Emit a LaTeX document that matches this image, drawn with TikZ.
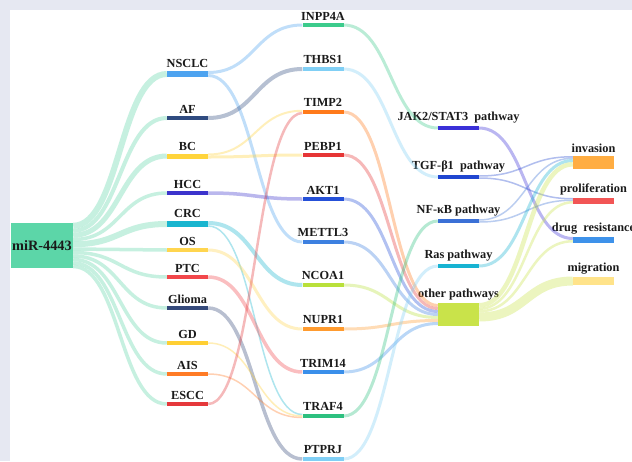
\documentclass[tikz,border=0pt]{standalone}
\usepackage{fontspec}
\setmainfont{Liberation Serif}
\usepackage{xcolor}
\usepackage{tikz}
\usetikzlibrary{calc}
\definecolor{ink}{HTML}{1A1A1A}
\definecolor{bgband}{HTML}{E6E8F2}
\definecolor{cmir}{HTML}{5CD6A8}
\definecolor{cnsclc}{HTML}{4DA3F0}
\definecolor{caf}{HTML}{2F4B80}
\definecolor{cbc}{HTML}{FFD43B}
\definecolor{chcc}{HTML}{3C33CC}
\definecolor{ccrc}{HTML}{19B5CF}
\definecolor{cos}{HTML}{FFD54F}
\definecolor{cptc}{HTML}{F2474B}
\definecolor{cglioma}{HTML}{34497A}
\definecolor{cgd}{HTML}{FFCF33}
\definecolor{cais}{HTML}{FF7B25}
\definecolor{cescc}{HTML}{E5383B}
\definecolor{cinpp}{HTML}{3CCB8C}
\definecolor{cthbs}{HTML}{80CFF5}
\definecolor{ctimp}{HTML}{FF7A1A}
\definecolor{cpebp}{HTML}{E63535}
\definecolor{cakt}{HTML}{2550D8}
\definecolor{cmettl}{HTML}{3D80E0}
\definecolor{cncoa}{HTML}{B9E03A}
\definecolor{cnupr}{HTML}{FF9B2F}
\definecolor{ctrim}{HTML}{3A8FEA}
\definecolor{ctraf}{HTML}{2DC07F}
\definecolor{cptprj}{HTML}{80CFF5}
\definecolor{cjak}{HTML}{3A30D8}
\definecolor{ctgf}{HTML}{2046D0}
\definecolor{cnfkb}{HTML}{3B70D6}
\definecolor{cras}{HTML}{17B3D2}
\definecolor{cother}{HTML}{C9E34A}
\definecolor{cinv}{HTML}{FFAD42}
\definecolor{cprol}{HTML}{F25555}
\definecolor{cdrug}{HTML}{3E92EA}
\definecolor{cmigr}{HTML}{FFE38A}

\begin{document}
\begin{tikzpicture}[x=1pt,y=-1pt,
  bar/.style={rectangle,inner sep=0pt,minimum width=41pt,minimum height=#1},
  tag/.style={font=\bfseries\fontsize{12.3}{14}\selectfont,text=ink,inner sep=0pt,label distance=2.5pt},
  flow/.style={line width=#1,draw opacity=0.35}]
\useasboundingbox (0,0) rectangle (632,461);
\fill[bgband] (0,0) rectangle (632,461);
\fill[white] (10,10) rectangle (632,461);
% source
\node[rectangle,inner sep=0pt,minimum width=62pt,minimum height=45.5pt,fill=cmir,
  font=\bfseries\fontsize{14.3}{16}\selectfont,text=ink] (mir) at (42,245.5) {miR-4443};
% diseases
\node[bar=6pt,fill=cnsclc,label={[tag]above:NSCLC}] (nsclc) at (187.5,74) {};
\node[bar=4pt,fill=caf,label={[tag]above:AF}] (af) at (187.5,118) {};
\node[bar=5pt,fill=cbc,label={[tag]above:BC}] (bc) at (187.5,156) {};
\node[bar=3.5pt,fill=chcc,label={[tag]above:HCC}] (hcc) at (187.5,193) {};
\node[bar=6pt,fill=ccrc,label={[tag]above:CRC}] (crc) at (187.5,224) {};
\node[bar=3.5pt,fill=cos,label={[tag]above:OS}] (os) at (187.5,250) {};
\node[bar=3.5pt,fill=cptc,label={[tag]above:PTC}] (ptc) at (187.5,277) {};
\node[bar=3.5pt,fill=cglioma,label={[tag]above:Glioma}] (glioma) at (187.5,308) {};
\node[bar=3.5pt,fill=cgd,label={[tag]above:GD}] (gd) at (187.5,343) {};
\node[bar=3.5pt,fill=cais,label={[tag]above:AIS}] (ais) at (187.5,374) {};
\node[bar=3.5pt,fill=cescc,label={[tag]above:ESCC}] (escc) at (187.5,404) {};
% genes
\node[bar=4pt,fill=cinpp,label={[tag]above:INPP4A}] (inpp) at (323,25) {};
\node[bar=4pt,fill=cthbs,label={[tag]above:THBS1}] (thbs) at (323,69) {};
\node[bar=4.5pt,fill=ctimp,label={[tag]above:TIMP2}] (timp) at (323,112) {};
\node[bar=4pt,fill=cpebp,label={[tag]above:PEBP1}] (pebp) at (323,155) {};
\node[bar=4pt,fill=cakt,label={[tag]above:AKT1}] (akt) at (323,199) {};
\node[bar=4pt,fill=cmettl,label={[tag]above:METTL3}] (mettl) at (323,242) {};
\node[bar=4pt,fill=cncoa,label={[tag]above:NCOA1}] (ncoa) at (323,285) {};
\node[bar=4pt,fill=cnupr,label={[tag]above:NUPR1}] (nupr) at (323,329) {};
\node[bar=4pt,fill=ctrim,label={[tag]above:TRIM14}] (trim) at (323,372) {};
\node[bar=4.5pt,fill=ctraf,label={[tag]above:TRAF4}] (traf) at (323,416) {};
\node[bar=4pt,fill=cptprj,label={[tag]above:PTPRJ}] (ptprj) at (323,459) {};
% pathways
\node[bar=4pt,fill=cjak,label={[tag]above:JAK2/STAT3\ \ pathway}] (jak) at (458.5,128) {};
\node[bar=4pt,fill=ctgf,label={[tag]above:TGF-β1\ \ pathway}] (tgf) at (458.5,177) {};
\node[bar=4pt,fill=cnfkb,label={[tag]above:NF-κB pathway}] (nfkb) at (458.5,221) {};
\node[bar=4pt,fill=cras,label={[tag]above:Ras pathway}] (ras) at (458.5,266) {};
\node[bar=23pt,fill=cother,label={[tag]above:other pathways}] (other) at (458.5,314.5) {};
% outcomes
\node[bar=13pt,fill=cinv,label={[tag]above:invasion}] (inv) at (593.5,162.5) {};
\node[bar=6pt,fill=cprol,label={[tag]above:proliferation}] (prol) at (593.5,201) {};
\node[bar=6pt,fill=cdrug,label={[tag]above:drug\ \ resistance}] (drug) at (593.5,240) {};
\node[bar=8pt,fill=cmigr,label={[tag]above:migration}] (migr) at (593.5,281) {};
% miR-4443 -> diseases
\draw[flow=6pt,draw=cmir] ($(mir.east)+(0,-19.75)$) .. controls +(47,0) and +(-47,0) .. (nsclc.west);
\draw[flow=4pt,draw=cmir] ($(mir.east)+(0,-14.75)$) .. controls +(47,0) and +(-47,0) .. (af.west);
\draw[flow=5pt,draw=cmir] ($(mir.east)+(0,-10.25)$) .. controls +(47,0) and +(-47,0) .. (bc.west);
\draw[flow=3.5pt,draw=cmir] ($(mir.east)+(0,-6)$) .. controls +(47,0) and +(-47,0) .. (hcc.west);
\draw[flow=6pt,draw=cmir] ($(mir.east)+(0,-1.25)$) .. controls +(47,0) and +(-47,0) .. (crc.west);
\draw[flow=3.5pt,draw=cmir] ($(mir.east)+(0,3.5)$) .. controls +(47,0) and +(-47,0) .. (os.west);
\draw[flow=3.5pt,draw=cmir] ($(mir.east)+(0,7)$) .. controls +(47,0) and +(-47,0) .. (ptc.west);
\draw[flow=3.5pt,draw=cmir] ($(mir.east)+(0,10.5)$) .. controls +(47,0) and +(-47,0) .. (glioma.west);
\draw[flow=3.5pt,draw=cmir] ($(mir.east)+(0,14)$) .. controls +(47,0) and +(-47,0) .. (gd.west);
\draw[flow=3.5pt,draw=cmir] ($(mir.east)+(0,17.5)$) .. controls +(47,0) and +(-47,0) .. (ais.west);
\draw[flow=3.5pt,draw=cmir] ($(mir.east)+(0,21)$) .. controls +(47,0) and +(-47,0) .. (escc.west);
% diseases -> genes
\draw[flow=3pt,draw=cnsclc] ($(nsclc.east)+(0,-1.5)$) .. controls +(47,0) and +(-47,0) .. (inpp.west);
\draw[flow=3pt,draw=cnsclc] ($(nsclc.east)+(0,1.5)$) .. controls +(47,0) and +(-47,0) .. (mettl.west);
\draw[flow=4pt,draw=caf] (af.east) .. controls +(47,0) and +(-47,0) .. (thbs.west);
\draw[flow=2pt,draw=cbc] ($(bc.east)+(0,-1.5)$) .. controls +(47,0) and +(-47,0) .. ($(timp.west)+(0,-1.25)$);
\draw[flow=3pt,draw=cbc] ($(bc.east)+(0,1)$) .. controls +(47,0) and +(-47,0) .. (pebp.west);
\draw[flow=3.5pt,draw=chcc] (hcc.east) .. controls +(47,0) and +(-47,0) .. (akt.west);
\draw[flow=4pt,draw=ccrc] ($(crc.east)+(0,-1)$) .. controls +(47,0) and +(-47,0) .. (ncoa.west);
\draw[flow=1.5pt,draw=ccrc] ($(crc.east)+(0,2)$) .. controls +(47,0) and +(-47,0) .. ($(traf.west)+(0,-1.5)$);
\draw[flow=3pt,draw=cos] (os.east) .. controls +(47,0) and +(-47,0) .. (nupr.west);
\draw[flow=3.5pt,draw=cptc] (ptc.east) .. controls +(47,0) and +(-47,0) .. (trim.west);
\draw[flow=3.5pt,draw=cglioma] (glioma.east) .. controls +(47,0) and +(-47,0) .. (ptprj.west);
\draw[flow=1.5pt,draw=cgd] (gd.east) .. controls +(47,0) and +(-47,0) .. (traf.west);
\draw[flow=1.5pt,draw=cais] (ais.east) .. controls +(47,0) and +(-47,0) .. ($(traf.west)+(0,1.5)$);
\draw[flow=2.5pt,draw=cescc] (escc.east) .. controls +(47,0) and +(-47,0) .. ($(timp.west)+(0,1)$);
% genes -> pathways
\draw[flow=3pt,draw=cinpp] (inpp.east) .. controls +(47,0) and +(-47,0) .. (jak.west);
\draw[flow=3pt,draw=cthbs] (thbs.east) .. controls +(47,0) and +(-47,0) .. (tgf.west);
\draw[flow=3pt,draw=ctimp] (timp.east) .. controls +(47,0) and +(-47,0) .. ($(other.west)+(0,-9)$);
\draw[flow=3pt,draw=cpebp] (pebp.east) .. controls +(47,0) and +(-47,0) .. ($(other.west)+(0,-6)$);
\draw[flow=3pt,draw=cakt] (akt.east) .. controls +(47,0) and +(-47,0) .. ($(other.west)+(0,-3)$);
\draw[flow=3pt,draw=cmettl] (mettl.east) .. controls +(47,0) and +(-47,0) .. (other.west);
\draw[flow=3pt,draw=cncoa] (ncoa.east) .. controls +(47,0) and +(-47,0) .. ($(other.west)+(0,3)$);
\draw[flow=3pt,draw=cnupr] (nupr.east) .. controls +(47,0) and +(-47,0) .. ($(other.west)+(0,6)$);
\draw[flow=3pt,draw=ctrim] (trim.east) .. controls +(47,0) and +(-47,0) .. ($(other.west)+(0,9)$);
\draw[flow=3pt,draw=ctraf] (traf.east) .. controls +(47,0) and +(-47,0) .. (nfkb.west);
\draw[flow=3pt,draw=cptprj] (ptprj.east) .. controls +(47,0) and +(-47,0) .. (ras.west);
% pathways -> outcomes
\draw[flow=3pt,draw=cjak] (jak.east) .. controls +(47,0) and +(-47,0) .. ($(drug.west)+(0,-1.5)$);
\draw[flow=1.5pt,draw=ctgf] ($(tgf.east)+(0,-1)$) .. controls +(47,0) and +(-47,0) .. ($(inv.west)+(0,-5.75)$);
\draw[flow=1.5pt,draw=ctgf] ($(tgf.east)+(0,1)$) .. controls +(47,0) and +(-47,0) .. ($(prol.west)+(0,-2.25)$);
\draw[flow=1.5pt,draw=cnfkb] ($(nfkb.east)+(0,-1)$) .. controls +(47,0) and +(-47,0) .. ($(inv.west)+(0,-4.25)$);
\draw[flow=1.5pt,draw=cnfkb] ($(nfkb.east)+(0,1)$) .. controls +(47,0) and +(-47,0) .. ($(prol.west)+(0,-0.75)$);
\draw[flow=3pt,draw=cras] (ras.east) .. controls +(47,0) and +(-47,0) .. ($(inv.west)+(0,-2)$);
\draw[flow=4.5pt,draw=cother] ($(other.east)+(0,-9.25)$) .. controls +(47,0) and +(-47,0) .. ($(inv.west)+(0,1.75)$);
\draw[flow=2.5pt,draw=cother] ($(other.east)+(0,-5.75)$) .. controls +(47,0) and +(-47,0) .. ($(prol.west)+(0,1.25)$);
\draw[flow=2.5pt,draw=cother] ($(other.east)+(0,-3.25)$) .. controls +(47,0) and +(-47,0) .. ($(drug.west)+(0,1.25)$);
\draw[flow=9pt,draw=cother] ($(other.east)+(0,2.5)$) .. controls +(47,0) and +(-47,0) .. (migr.west);
\end{tikzpicture}
\end{document}
